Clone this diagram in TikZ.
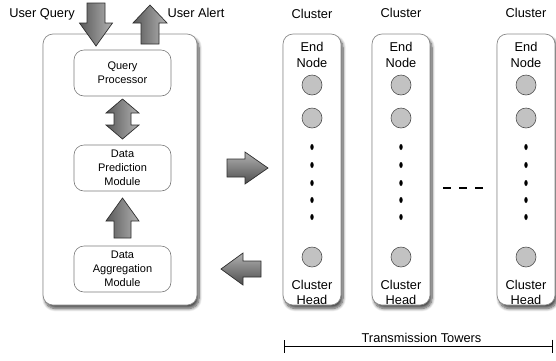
\documentclass[tikz,border=0pt]{standalone}
\usepackage{fontspec}
\setmainfont{Liberation Sans}
\usetikzlibrary{shadows.blur,arrows.meta}

\definecolor{boxline}{HTML}{8A8A8A}
\definecolor{inline}{HTML}{7A7A7A}
\definecolor{arrline}{HTML}{2E2E2E}
\definecolor{nodefill}{HTML}{C2C2C2}
\definecolor{nodeline}{HTML}{505050}

\tikzset{
  bigfont/.style={font=\fontsize{12.8}{16}\selectfont},
  smallfont/.style={font=\fontsize{11}{14}\selectfont},
  panel/.style={draw=boxline, line width=0.7pt, fill=white, rounded corners=10pt,
    blur shadow={shadow xshift=2pt, shadow yshift=-3.5pt, shadow blur steps=8,
      shadow blur radius=3pt, shadow opacity=70}},
  module/.style={draw=inline, line width=0.6pt, fill=white, rounded corners=10pt,
    minimum width=97pt, minimum height=46pt, align=center, smallfont, inner sep=0pt},
  varrow/.style={draw=arrline, line width=0.7pt, left color=black!65, right color=black!30},
  harrow/.style={draw=arrline, line width=0.7pt, top color=black!30, bottom color=black!70},
  sensor/.style={circle, draw=nodeline, line width=0.6pt, fill=nodefill, minimum size=20pt, inner sep=0pt},
  dotmark/.style={fill=black, draw=none},
  lbl/.style={bigfont, align=center, inner sep=0pt},
}

\begin{document}
\begin{tikzpicture}[x=1pt, y=-1pt]
  \useasboundingbox (0,0) rectangle (556,360);
  \begin{scope}
  \clip (0,0) rectangle (556,360);

  % base station panel
  \draw[panel] (43,34) rectangle (197,305);
  \node[module] (qp)  at (122.5,73)  {Query\\Processor};
  \node[module] (dpm) at (122.5,168) {Data\\Prediction\\Module};
  \node[module] (dam) at (122.5,269) {Data\\Aggregation\\Module};

  % user query in, user alert out
  \draw[varrow] (87,3) -- (105,3) -- (105,23) -- (112.5,23) -- (96,46)
        -- (79.5,23) -- (87,23) -- cycle;
  \draw[varrow] (141,44) -- (159,44) -- (159,23) -- (167,23) -- (150,5)
        -- (133,23) -- (141,23) -- cycle;
  \node[lbl] (uq) at (42,14) {User Query};
  \node[lbl] (ua) at (196,13) {User Alert};

  % processor <-> prediction
  \draw[varrow] (122.5,99) -- (139,113) -- (131,113) -- (131,125) -- (139,125)
        -- (122.5,139) -- (106,125) -- (114,125) -- (114,113) -- (106,113) -- cycle;
  % aggregation -> prediction
  \draw[varrow] (114,238) -- (131,238) -- (131,221) -- (139,221) -- (122.5,198)
        -- (106,221) -- (114,221) -- cycle;

  % to and from the clusters
  \draw[harrow] (227,159) -- (245,159) -- (245,152) -- (268,168) -- (245,184)
        -- (245,177) -- (227,177) -- cycle;
  \draw[harrow] (261,261) -- (243,261) -- (243,253) -- (221,269) -- (243,285)
        -- (243,277) -- (261,277) -- cycle;

  % cluster columns
  \foreach \i/\cx/\ly in {1/312/14, 2/401/13, 3/526/13} {
    \draw[panel] (\cx-29,34) rectangle (\cx+29,305);
    \node[lbl] (cl\i) at (\cx,\ly) {Cluster};
    \node[lbl] (en\i) at (\cx,55) {End\\[-0.5pt]Node};
    \node[sensor] (s\i a) at (\cx,85) {};
    \node[sensor] (s\i b) at (\cx,118) {};
    \foreach \yy in {147,165,183,200,217}
      \fill[dotmark] (\cx,\yy) ellipse [x radius=1.7pt, y radius=3pt];
    \node[sensor] (h\i) at (\cx,257) {};
    \node[lbl] (ch\i) at (\cx,292.5) {Cluster\\[-0.5pt]Head};
  }

  % more columns in between
  \draw[line width=2.8pt, dash pattern=on 8pt off 8pt] (443,188) -- (484,188);

  % span of the towers
  \coordinate (tl) at (284,346);
  \coordinate (tr) at (553,346);
  \draw[line width=0.9pt, {Bar[width=13pt,line width=1.3pt]}-{Bar[width=13pt,line width=1.3pt]}] (tl) -- (tr);
  \node[lbl] (tt) at (421.5,337.5) {Transmission Towers};
  \end{scope}
\end{tikzpicture}
\end{document}
